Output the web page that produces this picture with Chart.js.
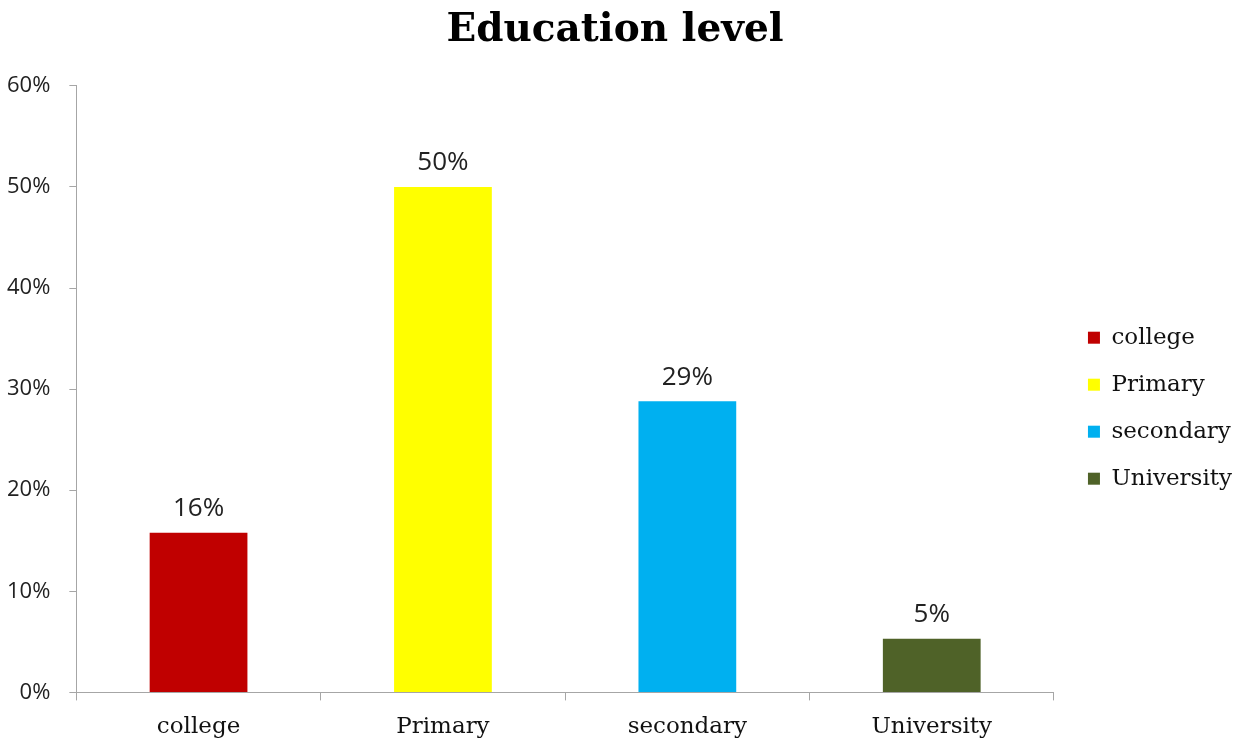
<!DOCTYPE html>
<html>
<head>
<meta charset="utf-8">
<script src="https://cdn.jsdelivr.net/npm/chart.js@4/dist/chart.umd.min.js"></script>
<style>
  html, body { margin: 0; padding: 0; background: #fff; }
  #wrap { width: 1242px; height: 742px; }
</style>
</head>
<body>
<div id="wrap"><canvas id="chart" width="1242" height="742"></canvas></div>
<script>
"use strict";

// share of respondents per education level (%)
const niveles = ["college", "Primary", "secondary", "University"];
const porcentajes = [15.8, 50, 28.8, 5.3];
const colores = ["#C00000", "#FFFF00", "#00B0F0", "#4F6228"];
const ticksY = [0, 10, 20, 30, 40, 50, 60];

const SERIF = "'DejaVu Serif', 'Liberation Serif', serif";
const SANS = "'Open Sans', 'Noto Sans', sans-serif";

// writes the rounded value above every bar
const etiquetasValor = {
  id: "etiquetasValor",
  afterDatasetsDraw(chart) {
    const ctx = chart.ctx;
    const meta = chart.getDatasetMeta(0);
    ctx.save();
    ctx.font = "26px " + SANS;
    ctx.fillStyle = "#222";
    ctx.textAlign = "center";
    ctx.textBaseline = "bottom";
    meta.data.forEach((bar, i) => {
      ctx.fillText(Math.round(porcentajes[i]) + "%", bar.x, bar.y - 11);
    });
    ctx.restore();
  },
};

new Chart(document.getElementById("chart"), {
  type: "bar",
  data: {
    labels: niveles,
    datasets: [
      {
        label: "Education level",
        data: porcentajes,
        backgroundColor: colores,
        borderWidth: 0,
        barPercentage: 0.4,
        categoryPercentage: 1,
      },
    ],
  },
  options: {
    responsive: false,
    animation: false,
    layout: { padding: { left: -12, right: 0, top: 4, bottom: -12 } },
    plugins: {
      title: {
        display: true,
        text: "Education level",
        color: "#000",
        font: { family: SERIF, size: 39, weight: "bold" },
        padding: { top: 3, bottom: 32 },
      },
      legend: {
        position: "right",
        title: {
          display: true,
          text: " ",
          padding: { top: 44, bottom: 0 },
          font: { size: 12 },
        },
        labels: {
          boxWidth: 12,
          boxHeight: 12,
          padding: 24,
          color: "#111",
          font: { family: SERIF, size: 23, lineHeight: 1.1 },
          generateLabels: () =>
            niveles.map((n, i) => ({
              text: n,
              fillStyle: colores[i],
              strokeStyle: colores[i],
              fontColor: "#111",
              lineWidth: 0,
              datasetIndex: 0,
              index: i,
            })),
        },
      },
      tooltip: { enabled: false },
    },
    scales: {
      x: {
        border: { color: "#A6A6A6", width: 1 },
        grid: {
          offset: true,
          drawOnChartArea: false,
          drawTicks: true,
          tickLength: 8,
          color: "#A6A6A6",
        },
        ticks: {
          color: "#111",
          font: { family: SERIF, size: 23 },
          padding: 13,
        },
      },
      y: {
        min: 0,
        max: 60,
        afterBuildTicks: (scale) => {
          scale.ticks = ticksY.map((v) => ({ value: v }));
        },
        border: { color: "#A6A6A6", width: 1 },
        grid: {
          drawOnChartArea: false,
          drawTicks: true,
          tickLength: 7,
          color: "#A6A6A6",
        },
        ticks: {
          color: "#222",
          font: { family: SANS, size: 22 },
          padding: 19,
          callback: (v) => v + "%",
        },
      },
      // empty strip between the plot and the legend
      margen: {
        position: "right",
        display: true,
        grid: { display: false },
        border: { display: false },
        ticks: { display: false },
        afterFit: (scale) => {
          scale.width = 10;
        },
      },
    },
  },
  plugins: [etiquetasValor],
});
</script>
</body>
</html>
